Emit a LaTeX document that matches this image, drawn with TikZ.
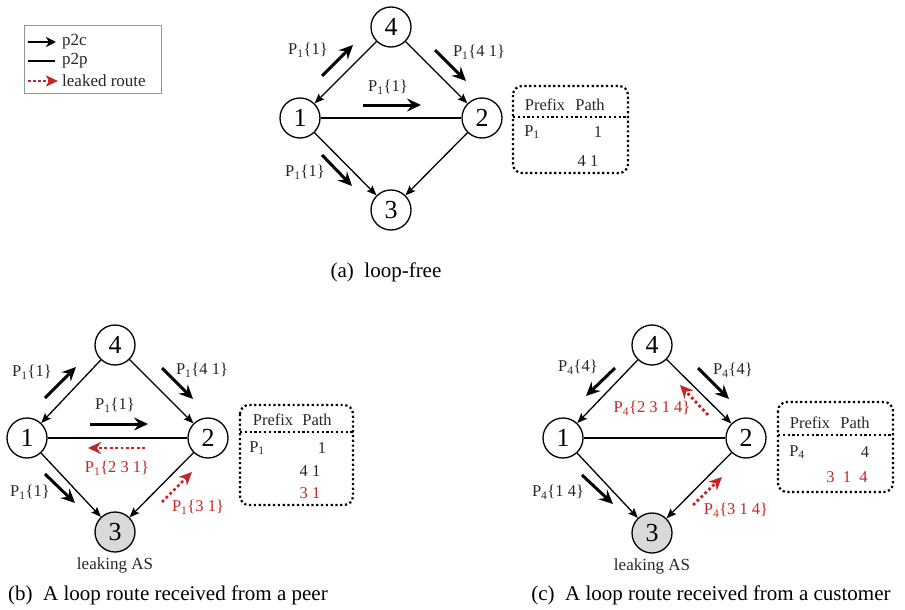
\documentclass[tikz,border=0pt]{standalone}
\usepackage{fontspec}
\setmainfont{Liberation Serif}
\usepackage{tikz}
\usetikzlibrary{arrows.meta, positioning, calc}

\definecolor{leakred}{RGB}{196,38,38}
\definecolor{boxgray}{RGB}{150,150,150}

\begin{document}
\begin{tikzpicture}[
    x=1pt, y=-1pt,
    asnode/.style={circle, draw=black, line width=1.3pt, minimum size=40pt, inner sep=0pt, fill=white, font=\fontsize{26}{26}\selectfont},
    leaking/.style={asnode, fill=gray!30},
    p2c/.style={line width=1.3pt, -{Stealth[length=10pt,width=8pt,inset=2pt]}},
    p2p/.style={line width=1.3pt},
    route/.style={line width=3pt, -{Stealth[length=14pt,width=13pt,inset=5pt]}},
    leaked/.style={leakred, line width=2.8pt, dash pattern=on 2.8pt off 2.6pt, -{Stealth[length=13pt,width=12pt,inset=4pt]}},
    lbl/.style={font=\fontsize{16.5}{18}\selectfont, text=black!85, inner sep=0pt},
    redlbl/.style={lbl, text=leakred},
    tablebox/.style={draw=black, line width=2.2pt, dash pattern=on 2.2pt off 2.6pt, rounded corners=9pt},
    tabline/.style={line width=2.2pt, dash pattern=on 2.2pt off 2.6pt},
    caption/.style={font=\fontsize{21}{23}\selectfont, inner sep=0pt}
]
\useasboundingbox (0,0) rectangle (905,610);

% legend
\draw[boxgray, line width=1pt] (24,26) rectangle (161,93);
\coordinate (k1s) at (28,42);
\coordinate (k1e) at (56,42);
\coordinate (k2s) at (28,61);
\coordinate (k2e) at (55,61);
\coordinate (k3s) at (28,81);
\coordinate (k3e) at (58,81);
\draw[line width=2pt, -{Stealth[length=10pt,width=10pt,inset=3pt]}] (k1s) -- (k1e);
\draw[line width=1.6pt] (k2s) -- (k2e);
\draw[leakred, line width=2.6pt, dash pattern=on 2.6pt off 2.4pt, -{Stealth[length=12pt,width=11pt,inset=3pt]}] (k3s) -- (k3e);
\node[lbl, font=\fontsize{17}{19}\selectfont, anchor=west] (k1) at (62,42) {p2c};
\node[lbl, font=\fontsize{17}{19}\selectfont, anchor=west] (k2) at (62,61) {p2p};
\node[lbl, font=\fontsize{17}{19}\selectfont, anchor=west] (k3) at (62,81) {leaked route};

% (a) loop-free
\node[asnode] (a4) at (391,27) {4};
\node[asnode] (a1) at (300,118) {1};
\node[asnode] (a2) at (482,118) {2};
\node[asnode] (a3) at (391,210) {3};

\draw[p2c] (a4) -- (a1);
\draw[p2c] (a4) -- (a2);
\draw[p2c] (a1) -- (a3);
\draw[p2c] (a2) -- (a3);
\draw[p2p] (a1) -- (a2);

\coordinate (ra1s) at (322,76);
\coordinate (ra1e) at (353,45);
\coordinate (ra2s) at (435,50);
\coordinate (ra2e) at (466,81);
\coordinate (ra3s) at (363,105);
\coordinate (ra3e) at (421,105);
\coordinate (ra4s) at (322,155);
\coordinate (ra4e) at (352,186);
\draw[route] (ra1s) -- (ra1e);
\draw[route] (ra2s) -- (ra2e);
\draw[route] (ra3s) -- (ra3e);
\draw[route] (ra4s) -- (ra4e);
\node[lbl] (la1) at (308,50) {P\textsubscript{1}\{1\}};
\node[lbl] (la2) at (479,52) {P\textsubscript{1}\{4 1\}};
\node[lbl] (la3) at (388,87) {P\textsubscript{1}\{1\}};
\node[lbl] (la4) at (305,172) {P\textsubscript{1}\{1\}};

\draw[tablebox] (513,86) rectangle (628,173);
\draw[tabline] (513,117) -- (628,117);
\node[lbl] (ta1) at (545,105) {Prefix};
\node[lbl] (ta2) at (590,105) {Path};
\node[lbl] (ta3) at (532,132) {P\textsubscript{1}};
\node[lbl] (ta4) at (598,132) {1};
\node[lbl] (ta5) at (588,161) {4 1};

\node[caption] (capa) at (386,272) {(a)\ \ loop-free};

% (b) loop route from a peer
\node[asnode] (b4) at (115,345) {4};
\node[asnode] (b1) at (27,438) {1};
\node[asnode] (b2) at (208,438) {2};
\node[leaking] (b3) at (115,532) {3};
\node[lbl, font=\fontsize{17}{19}\selectfont, below=5pt of b3] (bl) {leaking AS};

\draw[p2c] (b4) -- (b1);
\draw[p2c] (b4) -- (b2);
\draw[p2c] (b1) -- (b3);
\draw[p2c] (b2) -- (b3);
\draw[p2p] (b1) -- (b2);

\coordinate (rb1s) at (45,398);
\coordinate (rb1e) at (76,367);
\coordinate (rb2s) at (162,368);
\coordinate (rb2e) at (193,399);
\coordinate (rb3s) at (90,424);
\coordinate (rb3e) at (148,424);
\coordinate (rb4s) at (45,474);
\coordinate (rb4e) at (75,503);
\coordinate (xb1s) at (145,448);
\coordinate (xb1e) at (88,448);
\coordinate (xb2s) at (162,502);
\coordinate (xb2e) at (192,472);
\draw[route] (rb1s) -- (rb1e);
\draw[route] (rb2s) -- (rb2e);
\draw[route] (rb3s) -- (rb3e);
\draw[route] (rb4s) -- (rb4e);
\draw[leaked] (xb1s) -- (xb1e);
\draw[leaked] (xb2s) -- (xb2e);
\node[lbl] (lb1) at (32,372) {P\textsubscript{1}\{1\}};
\node[lbl] (lb2) at (202,370) {P\textsubscript{1}\{4 1\}};
\node[lbl] (lb3) at (115,405) {P\textsubscript{1}\{1\}};
\node[lbl] (lb4) at (30,492) {P\textsubscript{1}\{1\}};
\node[redlbl] (lb5) at (117,468) {P\textsubscript{1}\{2 3 1\}};
\node[redlbl] (lb6) at (198,507) {P\textsubscript{1}\{3 1\}};

\draw[tablebox] (240,405) rectangle (353,505);
\draw[tabline] (240,432) -- (353,432);
\node[lbl] (tb1) at (273,420) {Prefix};
\node[lbl] (tb2) at (317,420) {Path};
\node[lbl] (tb3) at (257,448) {P\textsubscript{1}};
\node[lbl] (tb4) at (322,448) {1};
\node[lbl] (tb5) at (310,471) {4 1};
\node[redlbl] (tb6) at (310,493) {3 1};

\node[caption] (capb) at (168,595) {(b)\ \ A loop route received from a peer};

% (c) loop route from a customer
\node[asnode] (c4) at (652,345) {4};
\node[asnode] (c1) at (563,438) {1};
\node[asnode] (c2) at (746,438) {2};
\node[leaking] (c3) at (652,533) {3};
\node[lbl, font=\fontsize{17}{19}\selectfont, below=5pt of c3] (cl) {leaking AS};

\draw[p2c] (c4) -- (c1);
\draw[p2c] (c4) -- (c2);
\draw[p2c] (c1) -- (c3);
\draw[p2c] (c2) -- (c3);
\draw[p2p] (c1) -- (c2);

\coordinate (rc1s) at (615,368);
\coordinate (rc1e) at (586,396);
\coordinate (rc2s) at (698,368);
\coordinate (rc2e) at (729,399);
\coordinate (rc3s) at (582,475);
\coordinate (rc3e) at (613,504);
\coordinate (xc1s) at (708,415);
\coordinate (xc1e) at (680,385);
\coordinate (xc2s) at (693,505);
\coordinate (xc2e) at (722,477);
\draw[route] (rc1s) -- (rc1e);
\draw[route] (rc2s) -- (rc2e);
\draw[route] (rc3s) -- (rc3e);
\draw[leaked] (xc1s) -- (xc1e);
\draw[leaked] (xc2s) -- (xc2e);
\node[lbl] (lc1) at (578,367) {P\textsubscript{4}\{4\}};
\node[lbl] (lc2) at (733,370) {P\textsubscript{4}\{4\}};
\node[lbl] (lc3) at (558,492) {P\textsubscript{4}\{1 4\}};
\node[redlbl] (lc4) at (652,408) {P\textsubscript{4}\{2 3 1 4\}};
\node[redlbl] (lc5) at (736,510) {P\textsubscript{4}\{3 1 4\}};

\draw[tablebox] (778,402) rectangle (893,492);
\draw[tabline] (778,435) -- (893,435);
\node[lbl] (tc1) at (810,423) {Prefix};
\node[lbl] (tc2) at (855,423) {Path};
\node[lbl] (tc3) at (797,452) {P\textsubscript{4}};
\node[lbl] (tc4) at (865,452) {4};
\node[redlbl] (tc5) at (847,477) {3\ \ 1\ \ 4};

\node[caption] (capc) at (711,595) {(c)\ \ A loop route received from a customer};

\end{tikzpicture}
\end{document}
